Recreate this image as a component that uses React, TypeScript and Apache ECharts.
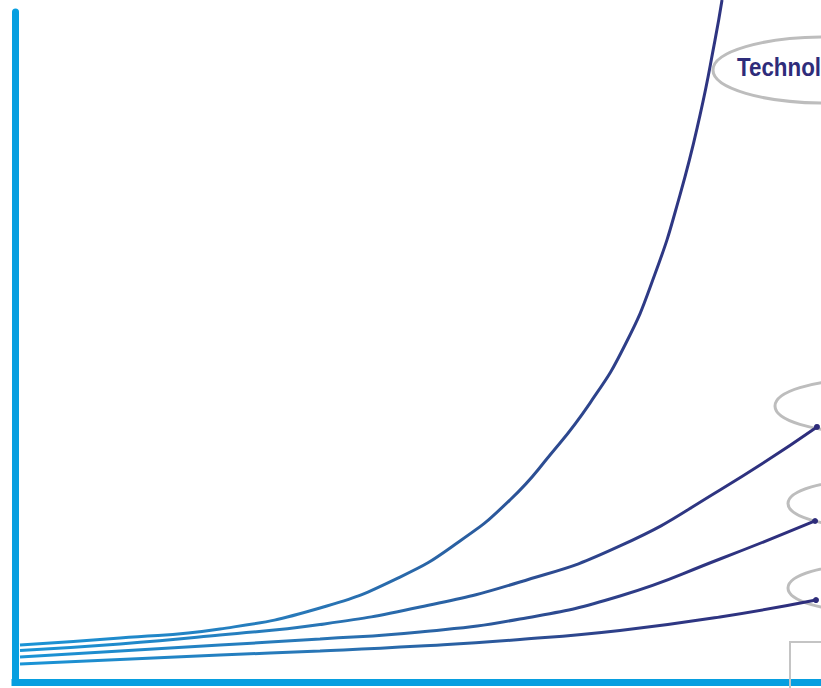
import React, { useEffect, useRef } from "react";
import * as echarts from "echarts";

// (arbitrary units: x 0–100 "time", y 0–100 "growth")
const technologyCurve: [number, number][] = [
  [0.62, 5.59], [13.03, 6.64], [25.43, 7.98], [37.84, 11.11], [47.77, 15.73],
  [55.21, 21.1], [61.41, 27.22], [66.38, 33.93], [71.34, 41.68], [75.68, 50.33],
  [79.4, 60.92], [82.5, 72.7], [84.99, 84.63], [86.85, 95.81], [87.72, 101.79],
];
const curveB: [number, number][] = [
  [0.62, 4.77], [13.03, 5.74], [25.43, 7.08], [37.84, 8.65], [50.25, 11.26],
  [62.65, 14.99], [75.06, 20.36], [87.47, 28.71], [99.5, 38.11],
];
const curveC: [number, number][] = [
  [0.62, 3.8], [13.03, 4.7], [25.43, 5.59], [37.84, 6.49], [50.25, 7.53],
  [62.65, 9.47], [75.06, 12.9], [87.47, 18.42], [99.26, 24.09],
];
const curveD: [number, number][] = [
  [0.62, 2.76], [13.03, 3.43], [25.43, 4.1], [37.84, 4.7], [50.25, 5.44],
  [62.65, 6.41], [75.06, 7.76], [87.47, 9.77], [99.38, 12.3],
];
const seriesNames = ["Technology", "B", "C", "D"];
const labelText = "Technology";

const AXIS = "#079fe0";
const NAVY = "#2e2c7a";
const GREY = "#bdbdbd";

export default function App() {
  const ref = useRef<HTMLDivElement>(null);
  useEffect(() => {
    if (!ref.current) return;
    const chart = echarts.init(ref.current, null, { renderer: "svg" });
    const grad = () =>
      new echarts.graphic.LinearGradient(
        20, 0, 820, 0,
        [
          { offset: 0, color: "#1a94d6" },
          { offset: 0.35, color: "#2878b8" },
          { offset: 0.55, color: "#2a60a2" },
          { offset: 0.67, color: "#2d4a90" },
          { offset: 0.8, color: "#2e3884" },
          { offset: 1, color: "#2e2d7c" },
        ],
        true
      );
    const mk = (name: string, data: [number, number][], endDot: boolean) => ({
      type: "line",
      name,
      smooth: 0.5,
      clip: false,
      showSymbol: true,
      symbol: "none",
      z: 3,
      lineStyle: { width: 3, color: grad() },
      data: data.map((d, i) =>
        i === data.length - 1 && endDot
          ? { value: d, symbol: "circle", symbolSize: 6, itemStyle: { color: NAVY } }
          : { value: d }
      ),
    });
    chart.setOption({
      animation: false,
      backgroundColor: "#ffffff",
      grid: { left: 15, right: 0, top: 12, bottom: 5.5 },
      xAxis: {
        type: "value",
        min: 0,
        max: 100,
        axisLine: { show: true, lineStyle: { color: AXIS, width: 7, cap: "square" } },
        axisTick: { show: false },
        axisLabel: { show: false },
        splitLine: { show: false },
      },
      yAxis: {
        type: "value",
        min: 0,
        max: 100,
        axisLine: { show: true, lineStyle: { color: AXIS, width: 7, cap: "round" } },
        axisTick: { show: false },
        axisLabel: { show: false },
        splitLine: { show: false },
      },
      series: [
        mk(seriesNames[0], technologyCurve, false),
        mk(seriesNames[1], curveB, true),
        mk(seriesNames[2], curveC, true),
        mk(seriesNames[3], curveD, true),
      ],
      graphic: [
        {
          type: "ellipse",
          z: 1,
          shape: { cx: 825, cy: 70, rx: 112, ry: 33 },
          style: { fill: "none", stroke: GREY, lineWidth: 3 },
        },
        {
          type: "text",
          z: 4,
          x: 737,
          y: 67,
          scaleX: 0.86,
          style: {
            text: labelText,
            x: 0,
            y: 0,
            verticalAlign: "middle",
            fill: NAVY,
            font: 'bold 26px "Liberation Sans", sans-serif',
          },
        },
        {
          type: "ellipse",
          z: 1,
          shape: { cx: 860, cy: 406, rx: 85, ry: 26 },
          style: { fill: "none", stroke: GREY, lineWidth: 3 },
        },
        {
          type: "ellipse",
          z: 1,
          shape: { cx: 868, cy: 503.5, rx: 80, ry: 23.5 },
          style: { fill: "none", stroke: GREY, lineWidth: 3 },
        },
        {
          type: "ellipse",
          z: 1,
          shape: { cx: 868, cy: 588, rx: 80, ry: 23.5 },
          style: { fill: "none", stroke: GREY, lineWidth: 3 },
        },
        {
          type: "rect",
          z: 10,
          shape: { x: 790, y: 642, width: 60, height: 60 },
          style: { fill: "none", stroke: "#c4c4c4", lineWidth: 2 },
        },
      ],
    });
    return () => chart.dispose();
  }, []);
  return (
    <div
      ref={ref}
      style={{ position: "absolute", left: 0, top: 0, width: 821, height: 688, overflow: "hidden" }}
    />
  );
}
